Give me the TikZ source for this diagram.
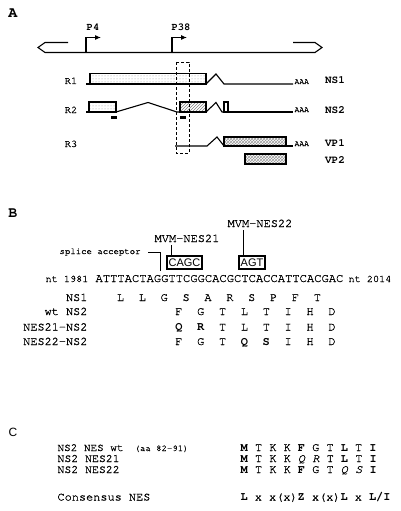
\documentclass[tikz,border=0pt]{standalone}
\usepackage{fontspec}
\newfontfamily\hvfont{Liberation Sans}
\newfontfamily\cur{TeX Gyre Cursor}[UprightFeatures={FakeBold=0.8},ItalicFeatures={FakeBold=0.8}]
\usetikzlibrary{patterns,arrows.meta,calc}
\begin{document}
\begin{tikzpicture}[x=1pt,y=-1pt,line width=1.1pt,
  tt/.style={inner sep=0pt,anchor=base,font=\cur\fontsize{#1}{#1}\selectfont},
  ttb/.style={inner sep=0pt,anchor=base,font=\cur\bfseries\fontsize{#1}{#1}\selectfont},
  panel/.style={inner sep=0pt,anchor=base,font=\cur\bfseries\fontsize{15}{15}\selectfont},
  panelc/.style={inner sep=0pt,anchor=base,font=\hvfont\fontsize{12}{12}\selectfont},
  dotbox/.style={draw,pattern=dots,pattern color=gray!80},
  hatchbox/.style={draw,pattern=north east lines,pattern color=gray},
  xbox/.style={draw,pattern=crosshatch,pattern color=gray!80},
  mutbox/.style={draw,line width=1.2pt,inner sep=0pt,minimum height=13pt,
     font=\hvfont\fontsize{11}{11}\selectfont},
  promo/.style={-{Latex[length=6pt,width=5pt]},line width=1.1pt},
  conn/.style={line width=1.1pt}
]
\useasboundingbox (0,0) rectangle (400,511);

% ---------------- Panel A ----------------
\node[panel] (A) at (13,18) {A};
% genome
\draw (68,42.5) -- (45,42.5) -- (38,47.5) -- (45,52.5) -- (315,52.5) -- (322,47.5) -- (315,42.5) -- (293,42.5);
\coordinate (p4) at (86,52.5);
\coordinate (p38) at (172,52.5);
\draw[promo] (p4) -- ++(0,-15) -- ++(15,0);
\draw[promo] (p38) -- ++(0,-15) -- ++(15,0);
\node[ttb=10.5] (p4l) at (93,31) {P4};
\node[ttb=10.5] (p38l) at (181,31) {P38};

% R1
\node[tt=10.5] (r1) at (71,84) {R1};
\draw (86,84) -- (90,84);
\draw[dotbox] (90,73.5) rectangle (206,84);
\draw (206,84) -- (216,74) -- (224,84) -- (293,84);
\node[tt=8,anchor=base west] (aaa1) at (294,84) {AAA};
\node[ttb=11] (ns1) at (335,84) {NS1};

% R2
\node[tt=10.5] (r2) at (71,113) {R2};
\draw (86,112) -- (89,112);
\draw[dotbox] (89,102) rectangle (116,112);
\draw (116,112) -- (148,102.5) -- (177,112) -- (180,112);
\draw[hatchbox] (180,102) rectangle (206,112);
\draw (206,112) -- (216,102.5) -- (222,112) -- (224,112);
\draw (224,102) rectangle (228,112);
\draw (228,112) -- (293,112);
\fill (111,116) rectangle (117,118.5);
\fill (180,116) rectangle (186,118.5);
\node[tt=8,anchor=base west] (aaa2) at (294,112) {AAA};
\node[ttb=11] (ns2) at (335,113) {NS2};

% R3
\node[tt=10.5] (r3) at (71,147) {R3};
\draw (175,146) -- (207,146) -- (217,137) -- (224,146);
\draw[xbox] (224,137) rectangle (286,146);
\draw (286,146) -- (293,146);
\draw[xbox] (245,154) rectangle (286,164);
\node[tt=8,anchor=base west] (aaa3) at (294,146) {AAA};
\node[ttb=11] (vp1) at (335,146) {VP1};
\node[ttb=11] (vp2) at (335,163.5) {VP2};

% dashed window
\draw[line width=0.9pt,dash pattern=on 3pt off 2pt] (176,62) rectangle (189,153);

% ---------------- Panel B ----------------
\node[panel] (B) at (13,217) {B};
\node[tt=12] (nes22) at (260,227) {MVM-NES22};
\node[tt=12] (nes21) at (187,242) {MVM-NES21};
\node[mutbox,minimum width=35pt] (cagc) at (184.5,262.5) {CAGC};
\node[mutbox,minimum width=26pt] (agt) at (252,262.5) {AGT};
\coordinate (c21) at ($(cagc.north west)+(5,0)$);
\coordinate (t21) at ($(nes21.south)+(0,2)$);
\coordinate (c22) at ($(agt.north west)+(5,0)$);
\coordinate (t22) at ($(nes22.south)+(0,2)$);
\draw[conn] (c21) -- (c21 |- t21);
\draw[conn] (c22) -- (c22 |- t22);

\node[tt=9,anchor=base west] (sa) at (59,254) {splice acceptor};
\coordinate (sap) at (160.5,271);
\draw[conn] ($(sa.east)+(7,0)$) -| (sap);

\node[tt=12.15,anchor=base west] (seq) at (95,282) {ATTTACTAGGTTCGGCACGCTCACCATTCACGAC};
\node[tt=10.2,anchor=base west] (nt1) at (45,282) {nt 1981};
\node[tt=10.2,anchor=base west] (nt2) at (348,282) {nt 2014};

\node[tt=11.9,anchor=base east] (l1) at (88,301) {NS1};
\node[tt=11.9,anchor=base east] (l2) at (88,315) {wt NS2};
\node[tt=11.9,anchor=base east] (l3) at (88,330.5) {NES21-NS2};
\node[tt=11.9,anchor=base east] (l4) at (88,345) {NES22-NS2};

\foreach \ch [count=\k from 0] in {L,L,G,S,A,R,S,P,F,T}
  \node[tt=11.9] (ns1a\k) at ({95+7.29*(3.5+3*\k)},301) {\ch};
\foreach \ch [count=\k from 0] in {F,G,T,L,T,I,H,D}
  \node[tt=11.9] (wta\k) at ({95+7.29*(11.5+3*\k)},315) {\ch};
\foreach \ch [count=\k from 0] in {{\bfseries Q},{\bfseries R},T,L,T,I,H,D}
  \node[tt=11.9] (m21a\k) at ({95+7.29*(11.5+3*\k)},330.5) {\ch};
\foreach \ch [count=\k from 0] in {F,G,T,{\bfseries Q},{\bfseries S},I,H,D}
  \node[tt=11.9] (m22a\k) at ({95+7.29*(11.5+3*\k)},345) {\ch};

% ---------------- Panel C ----------------
\node[panelc] (C) at (13,436) {C};
\node[tt=11,anchor=base west] (c1) at (57,451) {NS2 NES wt};
\node[tt=9,anchor=base west] (c1b) at (134,451) {(aa 82-91)};
\node[tt=11.5,anchor=base west] (c2) at (57,462) {NS2 NES21};
\node[tt=11.5,anchor=base west] (c3) at (57,473) {NS2 NES22};
\node[tt=11.9,anchor=base west] (c4) at (57,500.5) {Consensus NES};

\node[tt=11.9,anchor=base west] (s1) at (240,451) {\textbf{M} T K K \textbf{F} G T \textbf{L} T \textbf{I}};
\node[tt=11.9,anchor=base west] (s2) at (240,462) {\textbf{M} T K K \textit{Q} \textit{R} T \textbf{L} T \textbf{I}};
\node[tt=11.9,anchor=base west] (s3) at (240,473) {\textbf{M} T K K \textbf{F} G T \textit{Q} \textit{S} \textbf{I}};
\node[tt=11.9,anchor=base west] (s4) at (240,500.5) {\textbf{L} x x(x)\textbf{Z} x(x)\textbf{L} x \textbf{L/I}};
\end{tikzpicture}
\end{document}
